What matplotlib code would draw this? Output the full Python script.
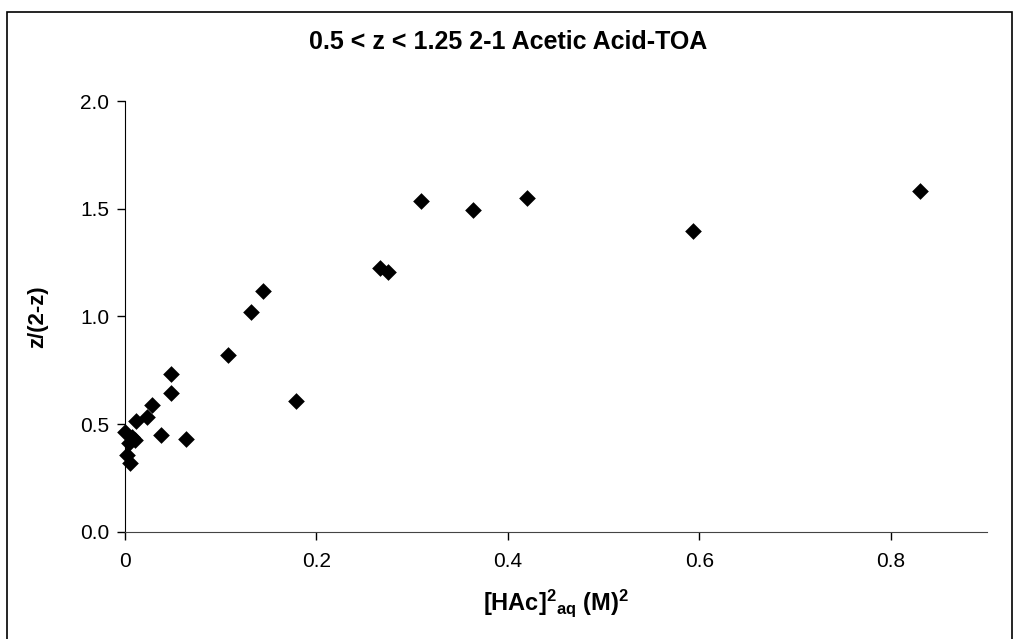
import matplotlib
matplotlib.use("Agg")
import matplotlib.pyplot as plt
from matplotlib.patches import Rectangle

plt.rcParams['font.family'] = ['Liberation Sans', 'DejaVu Sans']
plt.rcParams['mathtext.fontset'] = 'custom'
plt.rcParams['mathtext.rm'] = 'Liberation Sans:bold'
plt.rcParams['mathtext.it'] = 'Liberation Sans:bold'
plt.rcParams['mathtext.bf'] = 'Liberation Sans:bold'

# [HAc]^2 aq (M)^2 and z/(2-z)
hac_sq = [0.000, 0.004, 0.008, 0.011, 0.002, 0.006, 0.0115, 0.023, 0.028,
          0.038, 0.048, 0.048, 0.064, 0.108, 0.132, 0.144, 0.179, 0.267,
          0.275, 0.309, 0.364, 0.420, 0.593, 0.830]
z_ratio = [0.462, 0.410, 0.440, 0.426, 0.356, 0.320, 0.515, 0.534, 0.588,
           0.449, 0.733, 0.643, 0.429, 0.822, 1.019, 1.119, 0.607, 1.227,
           1.207, 1.539, 1.494, 1.550, 1.396, 1.585]

x_ticks = [0, 0.2, 0.4, 0.6, 0.8]
x_tick_labels = ["0", "0.2", "0.4", "0.6", "0.8"]
y_ticks = [0.0, 0.5, 1.0, 1.5, 2.0]
y_tick_labels = ["0.0", "0.5", "1.0", "1.5", "2.0"]

fig = plt.figure(figsize=(10.17, 6.39), dpi=100)
ax = fig.add_axes([0.1226, 0.1682, 0.8476, 0.673])

ax.scatter(hac_sq, z_ratio, marker="D", s=8.5 ** 2, color="black",
           linewidths=0, zorder=3, clip_on=False)

ax.set_xlim(0, 0.9)
ax.set_ylim(0, 2.0)
ax.set_xticks(x_ticks)
ax.set_xticklabels(x_tick_labels)
ax.set_yticks(y_ticks)
ax.set_yticklabels(y_tick_labels)
ax.tick_params(axis="both", direction="out", length=6, width=1, labelsize=15,
               colors="black")
ax.tick_params(axis="x", pad=9)
ax.tick_params(axis="y", pad=5)

for side in ("top", "right"):
    ax.spines[side].set_visible(False)
ax.spines["left"].set_color("black")
ax.spines["bottom"].set_color("#444444")

fig.text(0.5, 1 - 42 / 639, "0.5 < z < 1.25 2-1 Acetic Acid-TOA", fontsize=18,
         fontweight="bold", ha="center", va="center")
fig.text(555.7 / 1017, 1 - 603 / 639,
         r"[HAc]$^{2}$$_{aq}$ (M)$^{2}$",
         fontsize=17, fontweight="bold", ha="center", va="center")
fig.text(38 / 1017, 1 - 316.5 / 639, "z/(2-z)", fontsize=16, fontweight="bold",
         ha="center", va="center", rotation=90)

# outer chart frame, like the spreadsheet chart area
fig.patches.append(Rectangle((7 / 1017, -0.05), 1005 / 1017, 1 - 12 / 639 + 0.05,
                             transform=fig.transFigure, fill=False,
                             edgecolor="black", linewidth=1.2))

fig.savefig("out.png", dpi=100)
